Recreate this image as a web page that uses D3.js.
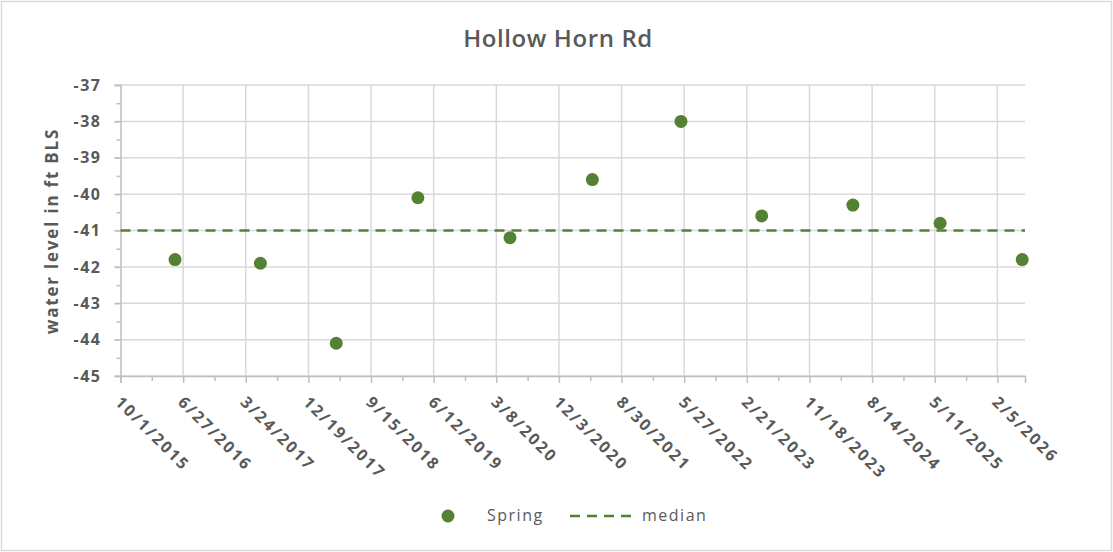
<!DOCTYPE html>
<html>
<head>
<meta charset="utf-8">
<script src="https://cdn.jsdelivr.net/npm/d3@7"></script>
<style>
  body { margin: 0; background: #fff; }
  text { font-family: "Open Sans", sans-serif; fill: #595959; }
</style>
</head>
<body>
<script>
// Data
var sampleDates = ["2016-05-23", "2017-05-26", "2018-04-18", "2019-04-05", "2020-05-06",
                   "2021-04-26", "2022-05-13", "2023-04-26", "2024-05-23", "2025-06-03", "2026-05-23"];
var springLevels = [-41.8, -41.9, -44.1, -40.1, -41.2, -39.6, -38.0, -40.6, -40.3, -40.8, -41.8];
var medianLevel = -41;
var xTickLabels = ["10/1/2015", "6/27/2016", "3/24/2017", "12/19/2017", "9/15/2018", "6/12/2019",
                   "3/8/2020", "12/3/2020", "8/30/2021", "5/27/2022", "2/21/2023", "11/18/2023",
                   "8/14/2024", "5/11/2025", "2/5/2026"];
var yTicks = [-45, -44, -43, -42, -41, -40, -39, -38, -37];

var width = 1113, height = 552;
var green = "#548235";
var parseIso = d3.timeParse("%Y-%m-%d");
var parseUs = d3.timeParse("%m/%d/%Y");

var spring = sampleDates.map(function(d, i) { return {date: parseIso(d), value: springLevels[i]}; });
var majorDates = xTickLabels.map(function(d) { return parseUs(d); });
var minorDates = majorDates.map(function(d) { return d3.timeDay.offset(d, 135); })
                           .filter(function(d) { return d < parseIso("2026-06-04"); });

var plot = {left: 120.5, right: 1025, top: 85, bottom: 376};

// Scales
var xScale = d3.scaleTime()
  .domain([parseUs("10/1/2015"), parseIso("2026-06-04")])
  .range([plot.left, plot.right]);
var yScale = d3.scaleLinear()
  .domain([-45, -37])
  .range([plot.bottom, plot.top]);

var svg = d3.select("body").append("svg")
  .attr("width", width)
  .attr("height", height);

// chart border
svg.append("rect")
  .attr("x", 1.5).attr("y", 1.5)
  .attr("width", width - 3).attr("height", height - 3)
  .attr("fill", "#fff")
  .attr("stroke", "#d9d9d9")
  .attr("stroke-width", 1.5);

// Title
svg.append("text")
  .attr("x", 558).attr("y", 47)
  .attr("text-anchor", "middle")
  .style("font-size", "24px")
  .style("font-weight", 600)
  .style("letter-spacing", "0.6px")
  .text("Hollow Horn Rd");

// Gridlines
svg.append("g").selectAll("line")
  .data(yTicks)
  .enter().append("line")
    .attr("x1", plot.left - 6).attr("x2", plot.right)
    .attr("y1", d => yScale(d)).attr("y2", d => yScale(d))
    .attr("stroke", "#d9d9d9").attr("stroke-width", 1.5);

svg.append("g").selectAll("line")
  .data(majorDates.slice(1))
  .enter().append("line")
    .attr("x1", d => xScale(d)).attr("x2", d => xScale(d))
    .attr("y1", plot.top).attr("y2", plot.bottom)
    .attr("stroke", "#d9d9d9").attr("stroke-width", 1.5);

// Axes (drawn by d3 axis, restyled)
var xAxis = d3.axisBottom(xScale).tickValues(majorDates).tickSize(7).tickFormat("");
var xAxisMinor = d3.axisBottom(xScale).tickValues(minorDates).tickSize(5).tickFormat("");
var yAxisMinor = d3.axisLeft(yScale).tickValues(d3.range(-44.5, -37, 1)).tickSize(4).tickFormat("");
var yAxis = d3.axisLeft(yScale).tickValues(yTicks).tickSize(6).tickPadding(13)
  .tickFormat(d => String(d));

var gx = svg.append("g").attr("transform", "translate(0," + plot.bottom + ")").call(xAxis);
svg.append("g").attr("transform", "translate(0," + plot.bottom + ")").call(xAxisMinor)
  .select(".domain").remove();
var gy = svg.append("g").attr("transform", "translate(" + plot.left + ",0)").call(yAxis);
svg.append("g").attr("transform", "translate(" + plot.left + ",0)").call(yAxisMinor)
  .select(".domain").remove();

svg.selectAll(".domain").attr("stroke", "#bfbfbf").attr("stroke-width", 1.5);
svg.selectAll(".tick line").attr("stroke", "#bfbfbf").attr("stroke-width", 1.5);

gy.selectAll(".tick text")
  .style("font-size", "16px")
  .style("font-weight", 700)
  .style("letter-spacing", "1.5px")
  .attr("fill", "#595959");

// rotated date labels
svg.append("g").selectAll("text")
  .data(majorDates)
  .enter().append("text")
    .attr("transform", d => "translate(" + (xScale(d) + 2) + ",395) rotate(45)")
    .attr("y", "0.72em")
    .style("font-size", "16px")
    .style("font-weight", 700)
    .style("letter-spacing", "2.2px")
    .text((d, i) => xTickLabels[i]);

// Y axis title
svg.append("text")
  .attr("transform", "translate(58,231) rotate(-90)")
  .attr("text-anchor", "middle")
  .style("font-size", "17px")
  .style("font-weight", 700)
  .style("letter-spacing", "1.8px")
  .text("water level  in ft BLS");

// Median line
svg.append("line")
  .attr("x1", plot.left).attr("x2", plot.right)
  .attr("y1", yScale(medianLevel)).attr("y2", yScale(medianLevel))
  .attr("stroke", green).attr("stroke-width", 2.5)
  .attr("stroke-dasharray", "10,7");

// Spring points
svg.append("g").selectAll("circle")
  .data(spring)
  .enter().append("circle")
    .attr("cx", d => xScale(d.date))
    .attr("cy", d => yScale(d.value))
    .attr("r", 6.5)
    .attr("fill", green);

// Legend
var legend = svg.append("g");
legend.append("circle").attr("cx", 448).attr("cy", 516).attr("r", 6.5).attr("fill", green);
legend.append("text").attr("x", 487).attr("y", 521)
  .style("font-size", "16px").style("letter-spacing", "1.5px").text("Spring");
legend.append("line").attr("x1", 570).attr("x2", 632).attr("y1", 516).attr("y2", 516)
  .attr("stroke", green).attr("stroke-width", 2.5).attr("stroke-dasharray", "10,7");
legend.append("text").attr("x", 642).attr("y", 521)
  .style("font-size", "16px").style("letter-spacing", "1.5px").text("median");
</script>
</body>
</html>
